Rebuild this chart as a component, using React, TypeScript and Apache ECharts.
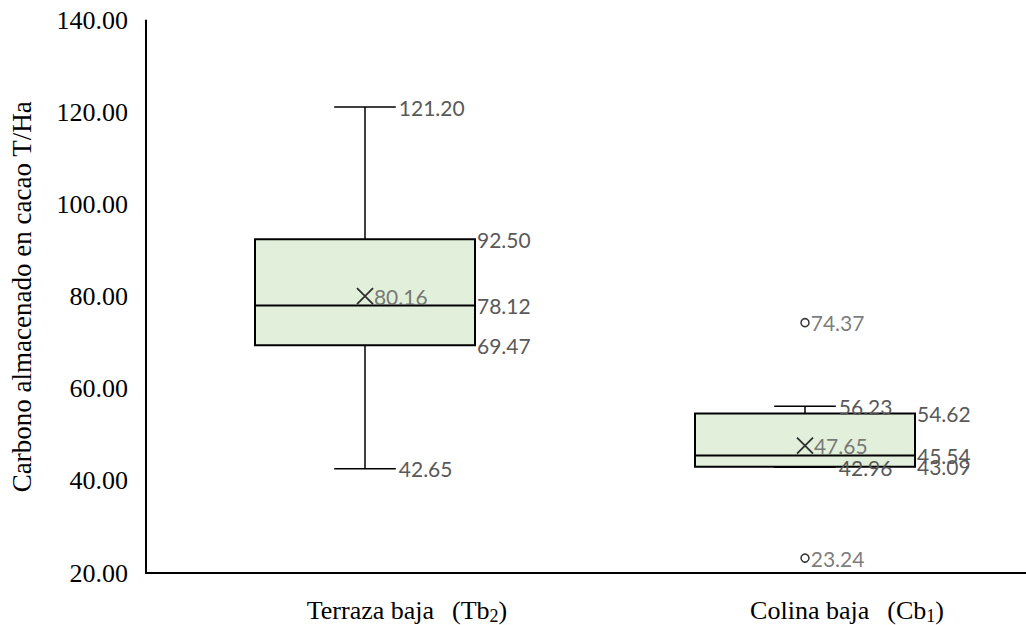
import React, { useEffect, useRef } from "react";
import * as echarts from "echarts";

const labelMain = ["Terraza baja", "Colina baja"];
const labelCode = ["Tb", "Cb"];
const labelSub = ["2", "1"];
const categories = ["Terraza baja (Tb2)", "Colina baja (Cb1)"];

const whiskerLow = [42.65, 42.96];
const q1 = [69.47, 43.09];
const median = [78.12, 45.54];
const q3 = [92.5, 54.62];
const whiskerHigh = [121.2, 56.23];
const means = [80.16, 47.65];
const outlierCat = [1, 1];
const outlierVal = [74.37, 23.24];

const yTicks = { min: 20, max: 140, interval: 20 };

const SERIF = "'Liberation Serif', 'Times New Roman', serif";
const LBL_FONT = "Lato";
const LBL_SIZE = 21;
const LBL_COLOR = "#595959";

export default function App() {
  const ref = useRef<HTMLDivElement>(null);

  useEffect(() => {
    if (!ref.current) return;
    const chart = echarts.init(ref.current, null, { renderer: "svg" });

    const boxData = categories.map((_, i) => [i, whiskerLow[i], q1[i], median[i], q3[i], whiskerHigh[i]]);
    const meanData = categories.map((_, i) => [i, means[i]]);
    const outlierData = outlierVal.map((v, i) => [outlierCat[i], v]);

    const font = `${LBL_SIZE}px ${LBL_FONT}`;
    const txt = (text: string, x: number, y: number) => ({
      type: "text",
      x,
      y,
      style: {
        text,
        fill: LBL_COLOR,
        font,
        align: "left",
        verticalAlign: "middle",
        textAlign: "left",
        textVerticalAlign: "middle",
      },
      z2: 5,
    });

    const renderItem = (params: any, api: any) => {
      const c = api.value(0);
      const lo = api.coord([c, api.value(1)]);
      const a = api.coord([c, api.value(2)]);
      const m = api.coord([c, api.value(3)]);
      const b = api.coord([c, api.value(4)]);
      const hi = api.coord([c, api.value(5)]);
      const band = api.size([1, 0])[0];
      const bw = band * 0.5;
      const cw = band * 0.14;
      const x = lo[0] - 1;
      const line = (x1: number, y1: number, x2: number, y2: number, w: number) => ({
        type: "line",
        shape: { x1, y1, x2, y2 },
        style: { stroke: "#000", lineWidth: w },
      });
      const f = (v: number) => v.toFixed(2);
      return {
        type: "group",
        children: [
          line(x, hi[1], x, b[1], 1.5),
          line(x, a[1], x, lo[1], 1.5),
          line(x - cw / 2, hi[1], x + cw / 2, hi[1], 1.5),
          line(x - cw / 2, lo[1], x + cw / 2, lo[1], 1.5),
          {
            type: "rect",
            shape: { x: x - bw / 2, y: b[1], width: bw, height: a[1] - b[1] },
            style: { fill: "#E2EFDA", stroke: "#000", lineWidth: 2 },
          },
          line(x - bw / 2, m[1], x + bw / 2, m[1], 2),
          txt(f(api.value(5)), x + cw / 2 + 3, hi[1]),
          txt(f(api.value(1)), x + cw / 2 + 3, lo[1]),
          txt(f(api.value(4)), x + bw / 2 + 2, b[1]),
          txt(f(api.value(3)), x + bw / 2 + 2, m[1]),
          txt(f(api.value(2)), x + bw / 2 + 2, a[1]),
        ],
      };
    };

    chart.setOption({
      animation: false,
      grid: { left: 146, right: -4, top: 20.5, bottom: 51, containLabel: false },
      xAxis: {
        type: "category",
        data: categories,
        axisTick: { show: false },
        axisLine: { lineStyle: { color: "#000", width: 2 } },
        axisLabel: {
          margin: 22,
          padding: [0, 0, 0, 82],
          formatter: (_v: string, i: number) =>
            `{m|${labelMain[i]}}{p|(${labelCode[i]}}{s|${labelSub[i]}}{m|)}`,
          rich: {
            m: { fontFamily: SERIF, fontSize: 26, color: "#000", lineHeight: 30 },
            p: { fontFamily: SERIF, fontSize: 26, color: "#000", lineHeight: 30, padding: [0, 0, 0, 18] },
            s: { fontFamily: SERIF, fontSize: 18, color: "#000", lineHeight: 18, verticalAlign: "bottom" },
          },
        },
      },
      yAxis: {
        type: "value",
        min: yTicks.min,
        max: yTicks.max,
        interval: yTicks.interval,
        name: "Carbono almacenado en cacao T/Ha",
        nameLocation: "middle",
        nameRotate: 90,
        nameGap: 111,
        nameTextStyle: { fontFamily: SERIF, fontSize: 27, color: "#000" },
        axisLine: { show: true, lineStyle: { color: "#000", width: 2 } },
        axisTick: { show: false },
        splitLine: { show: false },
        axisLabel: {
          margin: 18,
          fontFamily: SERIF,
          fontSize: 26,
          color: "#000",
          formatter: (v: number) => v.toFixed(2),
        },
      },
      series: [
        {
          type: "custom",
          renderItem,
          data: boxData,
          encode: { x: 0, y: [1, 2, 3, 4, 5] },
          z: 2,
        },
        {
          type: "scatter",
          data: meanData,
          symbol: "path://M0,0L10,10M10,0L0,10",
          symbolSize: 16,
          symbolOffset: [-1, 0],
          itemStyle: { color: "transparent", borderColor: "#000", borderWidth: 1.8 },
          label: {
            show: true,
            position: "right",
            distance: 0,
            fontFamily: LBL_FONT,
            fontSize: LBL_SIZE,
            color: LBL_COLOR,
            formatter: (p: any) => p.value[1].toFixed(2),
          },
          z: 4,
        },
        {
          type: "scatter",
          data: outlierData,
          symbol: "circle",
          symbolSize: 8,
          symbolOffset: [-1, 0],
          itemStyle: { color: "#fff", borderColor: "#000", borderWidth: 1.5 },
          label: {
            show: true,
            position: "right",
            distance: 1,
            fontFamily: LBL_FONT,
            fontSize: LBL_SIZE,
            color: LBL_COLOR,
            formatter: (p: any) => p.value[1].toFixed(2),
          },
          z: 4,
        },
      ],
    });

    return () => chart.dispose();
  }, []);

  return (
    <div
      ref={ref}
      style={{ position: "fixed", left: 0, top: 0, width: 1026, height: 625, background: "#fff" }}
    />
  );
}
